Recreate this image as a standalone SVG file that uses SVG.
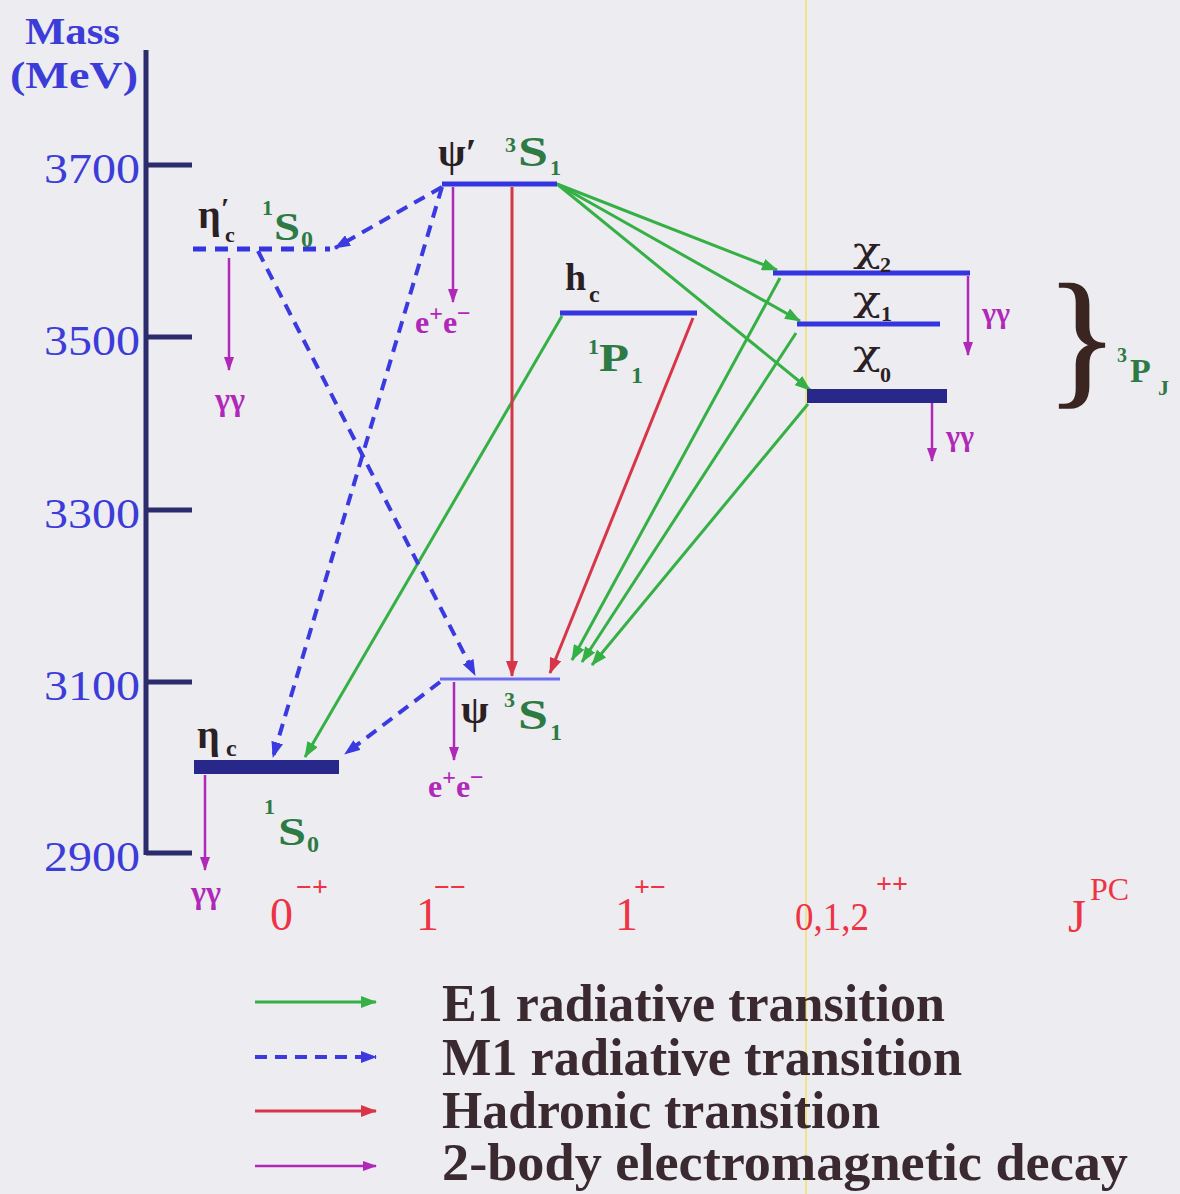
<svg xmlns="http://www.w3.org/2000/svg" width="1180" height="1194" viewBox="0 0 1180 1194">
<style>
.bg{fill:#edecf1}
.axis{stroke:#2b2b6e;stroke-width:5;fill:none}
.tick{font-family:"Liberation Serif",serif;font-size:42px;fill:#3c3cd8;text-anchor:end}
.ax{font-family:"Liberation Serif",serif;font-size:38px;font-weight:bold;fill:#3c3cd8}
.nm{font-family:"Liberation Serif",serif;font-weight:bold;fill:#2a2024}
.chi{font-family:"DejaVu Serif",serif;fill:#2a2024}
.sp{font-family:"Liberation Serif",serif;font-weight:bold;fill:#2d7a45}
.jpc{font-family:"Liberation Serif",serif;fill:#ee3344}
.dk{font-family:"Liberation Serif",serif;font-weight:bold;fill:#b028b8}
.leg{font-family:"Liberation Serif",serif;font-weight:bold;font-size:52px;fill:#3a2a30}
.e1{stroke:#35b045;stroke-width:3;fill:none;marker-end:url(#ag)}
.m1{stroke:#3a3ae0;stroke-width:4;stroke-dasharray:12 8;fill:none;marker-end:url(#ab)}
.had{stroke:#d83548;stroke-width:3;fill:none;marker-end:url(#ar)}
.dec{stroke:#b028b8;stroke-width:2.5;fill:none;marker-end:url(#am)}
.lvl{stroke:#3535e0;stroke-width:5;fill:none}
.thick{stroke:#28288a;stroke-width:14;fill:none}
</style>
<defs>
<marker id="ag" markerUnits="userSpaceOnUse" markerWidth="16" markerHeight="12" refX="15" refY="6" orient="auto"><path d="M0,0 L16,6 L0,12 z" fill="#35b045"/></marker>
<marker id="ab" markerUnits="userSpaceOnUse" markerWidth="16" markerHeight="12" refX="15" refY="6" orient="auto"><path d="M0,0 L16,6 L0,12 z" fill="#3a3ae0"/></marker>
<marker id="ar" markerUnits="userSpaceOnUse" markerWidth="16" markerHeight="12" refX="15" refY="6" orient="auto"><path d="M0,0 L16,6 L0,12 z" fill="#d83548"/></marker>
<marker id="am" markerUnits="userSpaceOnUse" markerWidth="14" markerHeight="10" refX="13" refY="5" orient="auto"><path d="M0,0 L14,5 L0,10 z" fill="#b028b8"/></marker>
</defs>
<rect class="bg" x="0" y="0" width="1180" height="1194"/>
<line x1="806" y1="0" x2="806" y2="1194" stroke="#f0e48a" stroke-width="2"/>

<g id="axis">
<line class="axis" x1="146" y1="50" x2="146" y2="855"/>
<line class="axis" x1="146" y1="165" x2="192" y2="165"/>
<line class="axis" x1="146" y1="337" x2="192" y2="337"/>
<line class="axis" x1="146" y1="510" x2="192" y2="510"/>
<line class="axis" x1="146" y1="682" x2="192" y2="682"/>
<line class="axis" x1="146" y1="853" x2="192" y2="853"/>
<text class="ax" x="25" y="44" textLength="95" lengthAdjust="spacingAndGlyphs">Mass</text>
<text class="ax" x="10" y="88" textLength="128" lengthAdjust="spacingAndGlyphs">(MeV)</text>
<text class="tick" x="140" y="183" textLength="96" lengthAdjust="spacingAndGlyphs">3700</text>
<text class="tick" x="140" y="355" textLength="96" lengthAdjust="spacingAndGlyphs">3500</text>
<text class="tick" x="140" y="528" textLength="96" lengthAdjust="spacingAndGlyphs">3300</text>
<text class="tick" x="140" y="700" textLength="96" lengthAdjust="spacingAndGlyphs">3100</text>
<text class="tick" x="140" y="871" textLength="96" lengthAdjust="spacingAndGlyphs">2900</text>
</g>

<g id="connectors">
<line class="e1" x1="557" y1="184" x2="777" y2="270"/>
<line class="e1" x1="557" y1="184" x2="800" y2="321"/>
<line class="e1" x1="557" y1="184" x2="810" y2="390"/>
<line class="e1" x1="562" y1="316" x2="305" y2="757"/>
<line class="e1" x1="780" y1="278" x2="572" y2="660"/>
<line class="e1" x1="796" y1="333" x2="582" y2="662"/>
<line class="e1" x1="808" y1="404" x2="592" y2="665"/>
<line class="m1" x1="442" y1="187" x2="335" y2="248"/>
<line class="m1" x1="442" y1="187" x2="273" y2="757"/>
<line class="m1" x1="258" y1="251" x2="475" y2="675"/>
<line class="m1" x1="440" y1="682" x2="345" y2="754"/>
<line class="had" x1="512" y1="187" x2="512" y2="676"/>
<line class="had" x1="693" y1="318" x2="550" y2="673"/>
<line class="dec" x1="229" y1="258" x2="229" y2="370"/>
<line class="dec" x1="453" y1="187" x2="453" y2="302"/>
<line class="dec" x1="454" y1="682" x2="454" y2="760"/>
<line class="dec" x1="205" y1="775" x2="205" y2="870"/>
<line class="dec" x1="968" y1="276" x2="968" y2="355"/>
<line class="dec" x1="932" y1="403" x2="932" y2="461"/>
</g>

<g id="etac_prime">
<line x1="193" y1="249" x2="330" y2="249" stroke="#3535e0" stroke-width="5" stroke-dasharray="13 9"/>
<text class="nm" x="198" y="228" font-size="40">η</text>
<text class="nm" x="221" y="218" font-size="30">′</text>
<text class="nm" x="225" y="242" font-size="22">c</text>
<text class="sp" x="262" y="215" font-size="22">1</text>
<text class="sp" x="274" y="240" font-size="40" textLength="26" lengthAdjust="spacingAndGlyphs">S</text>
<text class="sp" x="301" y="247" font-size="24">0</text>
<text class="dk" x="215" y="410" font-size="32">γγ</text>
</g>

<g id="psi_prime">
<line class="lvl" x1="442" y1="184" x2="557" y2="184"/>
<text class="nm" x="438" y="166" font-size="40">ψ′</text>
<text class="sp" x="505" y="152" font-size="22">3</text>
<text class="sp" x="518" y="166" font-size="42" textLength="30" lengthAdjust="spacingAndGlyphs">S</text>
<text class="sp" x="550" y="175" font-size="22">1</text>
<text class="dk" x="415" y="333" font-size="32">e<tspan dy="-12" font-size="24">+</tspan><tspan dy="12">e</tspan><tspan dy="-12" font-size="24">−</tspan></text>
</g>

<g id="h_c">
<line class="lvl" x1="560" y1="313" x2="697" y2="313"/>
<text class="nm" x="565" y="290" font-size="38">h</text>
<text class="nm" x="589" y="302" font-size="24">c</text>
<text class="sp" x="588" y="354" font-size="22">1</text>
<text class="sp" x="599" y="371" font-size="40" textLength="30" lengthAdjust="spacingAndGlyphs">P</text>
<text class="sp" x="631" y="383" font-size="24">1</text>
</g>

<g id="chi2">
<line class="lvl" x1="773" y1="273" x2="970" y2="273" stroke-width="4"/>
<text class="chi" x="853" y="262" font-size="36" textLength="28" lengthAdjust="spacingAndGlyphs">χ</text>
<text class="nm" x="880" y="272" font-size="22">2</text>
<text class="dk" x="982" y="323" font-size="30">γγ</text>
</g>

<g id="chi1">
<line class="lvl" x1="797" y1="324" x2="940" y2="324" stroke-width="4"/>
<text class="chi" x="853" y="311" font-size="36" textLength="28" lengthAdjust="spacingAndGlyphs">χ</text>
<text class="nm" x="881" y="321" font-size="22">1</text>
</g>

<g id="chi0">
<line class="thick" x1="807" y1="396" x2="947" y2="396" stroke-width="14"/>
<text class="chi" x="853" y="365" font-size="36" textLength="28" lengthAdjust="spacingAndGlyphs">χ</text>
<text class="nm" x="880" y="382" font-size="22">0</text>
<text class="dk" x="946" y="446" font-size="30">γγ</text>
</g>

<g id="chiJ_brace">
<text x="1046" y="388" font-family="Liberation Serif,serif" font-size="150" fill="#3a2520" stroke="#3a2520" stroke-width="1.5">}</text>
<text class="sp" x="1117" y="362" font-size="20">3</text>
<text class="sp" x="1130" y="382" font-size="34">P</text>
<text class="sp" x="1158" y="395" font-size="22">J</text>
</g>

<g id="jpsi">
<line x1="440" y1="679" x2="560" y2="679" stroke="#6c6cf0" stroke-width="3"/>
<text class="nm" x="461" y="723" font-size="40">ψ</text>
<text class="sp" x="504" y="707" font-size="22">3</text>
<text class="sp" x="518" y="729" font-size="42" textLength="30" lengthAdjust="spacingAndGlyphs">S</text>
<text class="sp" x="550" y="740" font-size="24">1</text>
<text class="dk" x="428" y="797" font-size="32">e<tspan dy="-12" font-size="24">+</tspan><tspan dy="12">e</tspan><tspan dy="-12" font-size="24">−</tspan></text>
</g>

<g id="etac">
<line class="thick" x1="194" y1="767" x2="339" y2="767"/>
<text class="nm" x="197" y="748" font-size="40">η</text>
<text class="nm" x="226" y="756" font-size="24">c</text>
<text class="sp" x="264" y="814" font-size="22">1</text>
<text class="sp" x="278" y="845" font-size="40" textLength="28" lengthAdjust="spacingAndGlyphs">S</text>
<text class="sp" x="307" y="852" font-size="24">0</text>
<text class="dk" x="191" y="903" font-size="32">γγ</text>
</g>

<g id="jpc">
<text class="jpc" x="270" y="930" font-size="46">0</text>
<text class="jpc" x="296" y="896" font-size="28" font-weight="bold">−+</text>
<text class="jpc" x="416" y="930" font-size="46">1</text>
<text class="jpc" x="434" y="896" font-size="28" font-weight="bold">−−</text>
<text class="jpc" x="615" y="930" font-size="46">1</text>
<text class="jpc" x="634" y="896" font-size="28" font-weight="bold">+−</text>
<text class="jpc" x="795" y="930" font-size="40" textLength="74" lengthAdjust="spacingAndGlyphs">0,1,2</text>
<text class="jpc" x="876" y="893" font-size="28" font-weight="bold">++</text>
<text class="jpc" x="1068" y="932" font-size="46">J</text>
<text class="jpc" x="1090" y="900" font-size="32">PC</text>
</g>

<g id="legend">
<line class="e1" x1="255" y1="1002" x2="376" y2="1002"/>
<line class="m1" x1="255" y1="1057" x2="376" y2="1057" stroke-width="3" stroke-dasharray="8 6"/>
<line class="had" x1="255" y1="1111" x2="376" y2="1111" stroke-width="4"/>
<line class="dec" x1="255" y1="1166" x2="376" y2="1166" stroke-width="3"/>
<text class="leg" x="442" y="1021" textLength="503" lengthAdjust="spacingAndGlyphs">E1 radiative transition</text>
<text class="leg" x="442" y="1075" textLength="520" lengthAdjust="spacingAndGlyphs">M1 radiative transition</text>
<text class="leg" x="442" y="1128" textLength="438" lengthAdjust="spacingAndGlyphs">Hadronic transition</text>
<text class="leg" x="442" y="1180" textLength="686" lengthAdjust="spacingAndGlyphs">2-body electromagnetic decay</text>
</g>
</svg>
